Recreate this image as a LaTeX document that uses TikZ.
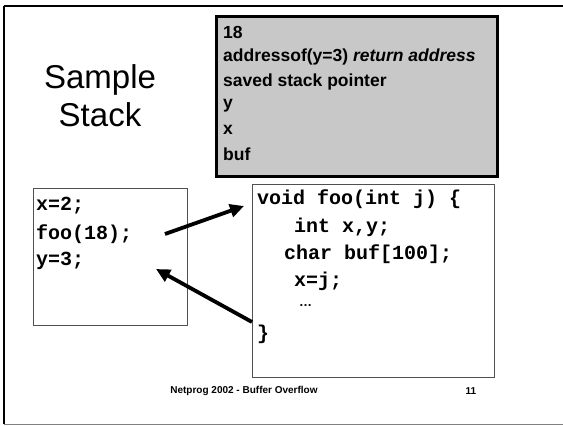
\documentclass[tikz,border=0pt]{standalone}
\usepackage{fontspec}
\setmainfont{Liberation Sans}
\newfontfamily\codefont{Liberation Mono}
\usetikzlibrary{arrows.meta}
\definecolor{stackgray}{RGB}{200,200,200}
\definecolor{boxline}{RGB}{80,80,80}
\tikzset{
  graytxt/.style={anchor=west, inner sep=0pt, font=\fontsize{17.5}{19}\selectfont\bfseries},
  codetxt/.style={anchor=west, inner sep=0pt, font=\fontsize{20}{22}\selectfont\codefont\bfseries},
  codebox/.style={draw=boxline, line width=0.9pt},
  bigarrow/.style={line width=3.8pt, -{Triangle[length=14pt,width=13pt]}},
}
\begin{document}
\begin{tikzpicture}[x=1pt,y=-1pt]
\useasboundingbox (0,0) rectangle (563,426);
% frame
\draw[line width=2.6pt] (4,6) -- (563,6);
\draw[line width=2.6pt] (4,6) -- (4,424);
\draw[line width=1pt, gray] (4,424) -- (563,424);
% stack box
\node[draw, line width=3pt, fill=stackgray, minimum width=281pt, minimum height=160pt, anchor=north west, inner sep=0pt] (stack) at (215,15) {};
\node[graytxt] (s1) at (223,32) {18};
\node[graytxt] (s2) at (223,57) {addressof(y=3) \textit{return address}};
\node[graytxt] (s3) at (223,82) {saved stack pointer};
\node[graytxt] (s4) at (223,106) {y};
\node[graytxt] (s5) at (223,130) {x};
\node[graytxt] (s6) at (223,154) {buf};
% title
\node[align=center, inner sep=0pt, font=\fontsize{33}{38}\selectfont] (title) at (100,96) {Sample\\Stack};
% left box
\node[codebox, minimum width=154pt, minimum height=137pt, anchor=north west, inner sep=0pt] (main) at (33,188) {};
\node[codetxt] (m1) at (36,206) {x=2;};
\node[codetxt] (m2) at (36,234) {foo(18);};
\node[codetxt] (m3) at (36,261) {y=3;};
% right box
\node[codebox, minimum width=242pt, minimum height=193pt, anchor=north west, inner sep=0pt] (foo) at (252,184) {};
\node[codetxt] (f1) at (257,199) {void foo(int j) \{};
\node[codetxt] (f2) at (294,227) {int x,y;};
\node[codetxt] (f3) at (284,254) {char buf[100];};
\node[codetxt] (f4) at (294,281) {x=j;};
\node[anchor=west, inner sep=0pt, font=\fontsize{13}{15}\selectfont\bfseries] (f5) at (299,306) {…};
\node[codetxt] (f6) at (257,334) {\}};
% arrows
\coordinate (a1s) at (165,234);
\coordinate (a1e) at (244,206);
\coordinate (a2s) at (252,322);
\coordinate (a2e) at (156,269);
\draw[bigarrow] (a1s) -- (a1e);
\draw[bigarrow] (a2s) -- (a2e);
% footer
\node[inner sep=0pt, font=\fontsize{10}{12}\selectfont\bfseries] (foot) at (244,391) {Netprog 2002 - Buffer Overflow};
\node[inner sep=0pt, font=\fontsize{10}{12}\selectfont\bfseries] (page) at (471,391) {11};
\end{tikzpicture}
\end{document}
